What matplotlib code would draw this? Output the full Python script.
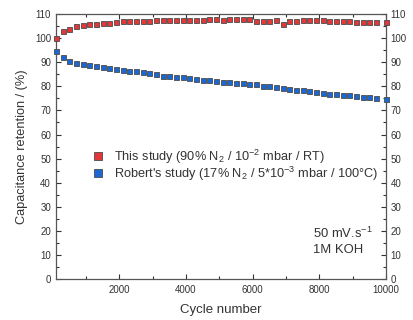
import matplotlib
matplotlib.use("Agg")
import matplotlib.pyplot as plt
from matplotlib.ticker import MultipleLocator

plt.rcParams['font.family'] = ['Liberation Sans', 'DejaVu Sans']
plt.rcParams['mathtext.default'] = 'regular'

# cycle numbers of the measured points
cycles = list(range(100, 9800, 200)) + [10000]

# this study (red)
this_study = [100.2, 103.0, 104.0, 104.9, 105.4, 105.8, 105.8, 106.5, 106.1, 106.8,
              107.0, 107.1, 107.2, 107.3, 107.3, 107.4, 107.4, 107.4, 107.5, 107.6,
              107.7, 107.6, 107.7, 107.8, 107.8, 107.7, 107.8, 107.8, 107.8, 107.9,
              107.1, 107.0, 107.1, 107.5, 106.0, 107.2, 107.3, 107.4, 107.5, 107.5,
              107.4, 107.0, 107.2, 107.0, 107.0, 106.9, 106.8, 106.9, 106.8, 106.6]

# Robert's study (blue)
robert = [94.5, 92.1, 90.4, 89.7, 89.1, 88.8, 88.3, 87.9, 87.5, 87.0,
          86.7, 86.4, 86.2, 85.8, 85.4, 85.0, 84.5, 84.1, 83.7, 84.0,
          83.4, 83.1, 82.8, 82.5, 82.2, 82.0, 81.7, 81.5, 81.3, 81.1,
          80.8, 80.3, 80.0, 79.6, 79.2, 78.9, 78.6, 78.3, 78.1, 77.7,
          77.4, 77.0, 76.7, 76.4, 76.2, 76.0, 75.7, 75.4, 75.0, 74.6]

lab_this = r"This study (90% N$_2$ / 10$^{-2}$ mbar / RT)"
lab_rob = r"Robert's study (17% N$_2$ / 5*10$^{-3}$ mbar / 100°C)"

grey = '#333333'

fig = plt.figure(figsize=(4.14, 3.2), dpi=100)
ax = fig.add_axes([0.135, 0.128, 0.797, 0.828])

ax.plot(cycles, this_study, 's', ms=3.6, mfc='#e3383a', mec='#4a4a4a', mew=0.6,
        clip_on=False, label=lab_this, zorder=3)
ax.plot(cycles, robert, 's', ms=3.6, mfc='#1c68d2', mec='#4a4a4a', mew=0.6,
        clip_on=False, label=lab_rob, zorder=3)

ax.set_xlim(100, 10000)
ax.set_ylim(0, 110)
ax.xaxis.set_major_locator(MultipleLocator(2000))
ax.xaxis.set_minor_locator(MultipleLocator(1000))
ax.yaxis.set_major_locator(MultipleLocator(10))
ax.yaxis.set_minor_locator(MultipleLocator(5))
ax.tick_params(which='both', direction='in', top=True, right=True,
               labelright=True, color=grey, labelsize=7, labelcolor=grey)
ax.tick_params(axis='y', pad=3.5)
ax.tick_params(axis='x', pad=4.5)
ax.tick_params(which='major', length=3.5, width=0.8)
ax.tick_params(which='minor', length=2, width=0.8)
for s in ax.spines.values():
    s.set_color('#555555')
    s.set_linewidth(0.9)

ax.set_xlabel("Cycle number", fontsize=9.5, color=grey, labelpad=6)
ax.set_ylabel("Capacitance retention / (%)", fontsize=9.2, color=grey, labelpad=5)

ax.legend(loc='center left', bbox_to_anchor=(0.072, 0.43), frameon=False,
          fontsize=9.2, markerscale=1.5, handlelength=1.0, handletextpad=0.8,
          labelspacing=-0.1, labelcolor=grey)

ax.text(0.778, 0.156, r"50 mV.s$^{-1}$", transform=ax.transAxes, fontsize=9.4, color=grey)
ax.text(0.778, 0.098, "1M KOH", transform=ax.transAxes, fontsize=9.4, color=grey)

fig.savefig("out.png", dpi=100)
